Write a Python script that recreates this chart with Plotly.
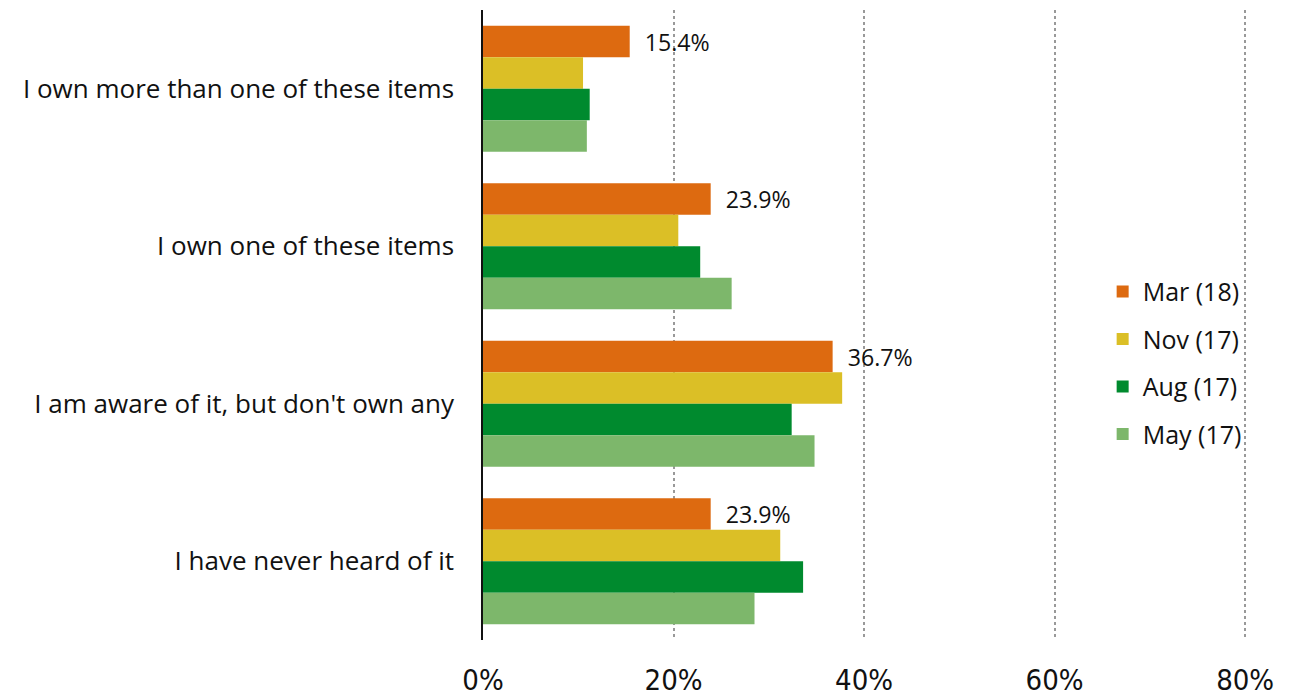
import plotly.graph_objects as go

# Survey responses by wave (share of respondents, %)
categories = [
    "I own more than one of these items",
    "I own one of these items",
    "I am aware of it, but don't own any",
    "I have never heard of it",
]
waves = ["Mar (18)", "Nov (17)", "Aug (17)", "May (17)"]
mar_18 = [15.4, 23.9, 36.7, 23.9]
nov_17 = [10.5, 20.5, 37.7, 31.2]
aug_17 = [11.2, 22.8, 32.4, 33.6]
may_17 = [10.9, 26.1, 34.8, 28.5]
tick_vals = [0, 20, 40, 60, 80]
tick_text = ["0%", "20%", "40%", "60%", "80%"]

colors = ["#DD6A10", "#DBBF26", "#008A2E", "#7DB76B"]
series = [mar_18, nov_17, aug_17, may_17]

FONT = "Open Sans"

fig = go.Figure()
for i, (name, vals, col) in enumerate(zip(waves, series, colors)):
    labelled = i == 0
    fig.add_trace(go.Bar(
        y=categories,
        x=vals,
        name=name,
        orientation="h",
        marker=dict(color=col, line=dict(width=0)),
        legendgroup=name,
        text=[f"  {v:.1f}%" for v in vals] if labelled else None,
        textposition="outside" if labelled else "none",
        textfont=dict(family=FONT, size=25, color="#111111"),
        cliponaxis=False,
        hoverinfo="x+name",
    ))

fig.update_layout(
    width=1294,
    height=698,
    margin=dict(l=483, r=46, t=10, b=58),
    paper_bgcolor="white",
    plot_bgcolor="white",
    barmode="group",
    bargap=0.2,
    bargroupgap=0,
    font=dict(family=FONT, size=25, color="#111111"),
    legend=dict(
        x=0.81, xanchor="left",
        y=0.44, yanchor="middle",
        traceorder="grouped",
        tracegroupgap=12,
        font=dict(family=FONT, size=25, color="#111111"),
        itemwidth=30,
        bgcolor="rgba(0,0,0,0)",
    ),
    xaxis=dict(
        range=[0, 80.3],
        tickvals=tick_vals,
        ticktext=tick_text,
        showgrid=True,
        gridcolor="#999999",
        griddash="dot",
        gridwidth=1.5,
        zeroline=False,
        showline=False,
        ticks="",
        automargin=False,
        ticklabelstandoff=20,
        tickfont=dict(family="Liberation Sans Narrow, DejaVu Sans Condensed", size=29, color="#111111"),
    ),
    yaxis=dict(
        autorange="reversed",
        showgrid=False,
        zeroline=False,
        showline=True,
        linecolor="#111111",
        linewidth=1.5,
        ticks="",
        automargin=False,
        ticklabelstandoff=22,
        tickfont=dict(family=FONT, size=26, color="#111111"),
    ),
)

fig.write_html("out.html")
